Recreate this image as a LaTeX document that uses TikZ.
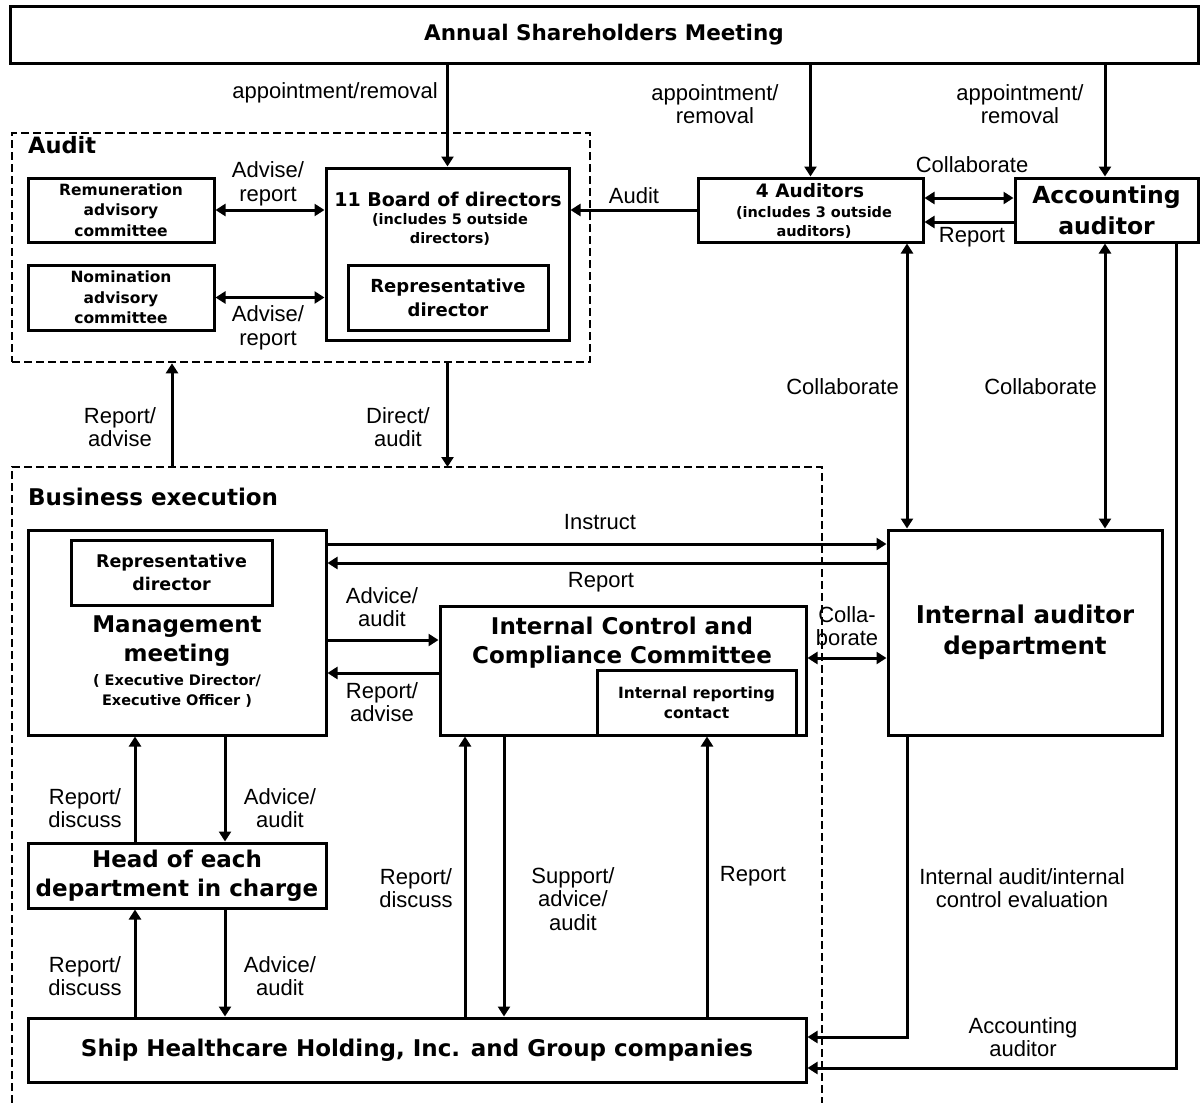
\documentclass[tikz,border=0pt]{standalone}
\usepackage{fontspec}
\setmainfont{DejaVu Sans}
\newfontfamily\labf{Liberation Sans}
\usetikzlibrary{arrows.meta}
\begin{document}
\begin{tikzpicture}[x=1pt,y=-1pt,
  box/.style={draw, line width=3pt, inner sep=0pt, align=center},
  dashbox/.style={draw, line width=2.6pt, dash pattern=on 8pt off 4pt},
  bigf/.style={font=\bfseries\fontsize{23}{29}\selectfont},
  smallf/.style={font=\bfseries\fontsize{15.5}{20.5}\selectfont},
  lab/.style={font=\labf\fontsize{22}{23.5}\selectfont, align=center, inner sep=0pt},
  txt/.style={align=center, inner sep=0pt},
  arr/.style={line width=3pt, -{Triangle[length=10pt,width=12pt]}},
  dbl/.style={line width=3pt, {Triangle[length=10pt,width=12pt]}-{Triangle[length=10pt,width=12pt]}}
]
\useasboundingbox (0,0) rectangle (1203,1103);
\fill[white] (0,0) rectangle (1203,1103);

% helper coordinates
\coordinate (x135) at (135,0);
\coordinate (x172) at (172,0);
\coordinate (x225) at (225,0);
\coordinate (x465) at (465,0);
\coordinate (x504) at (504,0);
\coordinate (x707) at (707,0);
\coordinate (x907) at (907,0);
\coordinate (x1105) at (1105,0);
\coordinate (x1176) at (1176,0);
\coordinate (y198) at (0,198);
\coordinate (y222) at (0,222);
\coordinate (y544) at (0,544);
\coordinate (y563) at (0,563);
\coordinate (y640) at (0,640);
\coordinate (y658) at (0,658);
\coordinate (y673) at (0,673);
\coordinate (y1037) at (0,1037);
\coordinate (y1068) at (0,1068);

% top
\node[box, font=\bfseries\fontsize{21.5}{26}\selectfont, minimum width=1188pt, minimum height=57pt] (asm) at (604,34.5) {Annual Shareholders Meeting};

% audit area
\node[dashbox, minimum width=578pt, minimum height=229pt, inner sep=0pt] (audit) at (301,247.5) {};
\node[txt, anchor=west, font=\bfseries\fontsize{22.5}{27}\selectfont] (audittitle) at (28,145) {Audit};

\node[box, smallf, minimum width=186pt, minimum height=64pt] (rem) at (121,210) {Remuneration\\advisory\\committee};
\node[box, smallf, minimum width=186pt, minimum height=65pt] (nom) at (121,297.5) {Nomination\\advisory\\committee};
\node[box, minimum width=243pt, minimum height=172pt] (bod) at (447.5,254) {};
\node[txt, font=\bfseries\fontsize{19}{24}\selectfont] (bodt1) at (448,199) {11 Board of directors};
\node[txt, font=\bfseries\fontsize{14.5}{19}\selectfont] (bodt2) at (450,229) {(includes 5 outside\\directors)};
\node[box, font=\bfseries\fontsize{18}{24}\selectfont, minimum width=200pt, minimum height=65pt] (bodrep) at (448,297.5) {Representative\\director};

% auditors
\node[box, minimum width=225pt, minimum height=64pt] (aud) at (810.5,210) {};
\node[txt, font=\bfseries\fontsize{18.5}{22}\selectfont] (audt1) at (810,191) {4 Auditors};
\node[txt, font=\bfseries\fontsize{14.5}{19}\selectfont] (audt2) at (814,222) {(includes 3 outside\\auditors)};
\node[box, font=\bfseries\fontsize{23.5}{31}\selectfont, minimum width=183pt, minimum height=64pt] (acc) at (1106.5,210) {Accounting\\auditor};

% business execution
\draw[dashbox] (12,1103) |- (822,467) -- (822,1103);
\coordinate (betop) at (417,467);
\node[txt, anchor=west, font=\bfseries\fontsize{23}{28}\selectfont] (betitle) at (28,497) {Business execution};

\node[box, minimum width=298pt, minimum height=205pt] (mm) at (177,632.5) {};
\node[box, font=\bfseries\fontsize{17.5}{23}\selectfont, minimum width=201pt, minimum height=65pt] (mmrep) at (171.5,572.5) {Representative\\director};
\node[txt, bigf] (mmt1) at (177,641.5) {Management\\meeting};
\node[txt, font=\bfseries\fontsize{14.5}{20}\selectfont] (mmt2) at (177,691) {( Executive Director/\\Executive Officer )};

\node[box, minimum width=366pt, minimum height=129pt] (icc) at (623,670.5) {};
\node[txt, bigf] (icct) at (622,642.5) {Internal Control and\\Compliance Committee};
\node[box, fill=white, font=\bfseries\fontsize{15.5}{20.5}\selectfont, minimum width=199pt, minimum height=65pt] (irc) at (696.5,702.5) {Internal reporting\\contact};

\node[box, font=\bfseries\fontsize{24.5}{31}\selectfont, minimum width=274pt, minimum height=205pt] (iad) at (1025,632.5) {Internal auditor\\department};

\node[box, bigf, minimum width=298pt, minimum height=65pt] (head) at (177,875.5) {Head of each\\department in charge};
\node[box, bigf, minimum width=778pt, minimum height=64pt] (ship) at (417,1050) {Ship Healthcare Holding, Inc. and Group companies};

% connectors top
\draw[arr] (asm.south -| bod) -- (bod.north);
\node[lab, anchor=east] (l1) at (438,93) {appointment/removal};
\draw[arr] (asm.south -| aud) -- (aud.north);
\node[lab] (l2) at (715,104) {appointment/\\removal};
\draw[arr] (asm.south -| x1105) -- (acc.north -| x1105);
\node[lab] (l3) at (1020,104) {appointment/\\removal};

\draw[dbl] (rem.east) -- (rem.east -| bod.west);
\node[lab] (l4) at (268,184) {Advise/\\report};
\draw[dbl] (nom.east) -- (nom.east -| bod.west);
\node[lab] (l5) at (268,328) {Advise/\\report};
\draw[arr] (aud.west) -- (aud.west -| bod.east);
\node[lab] (l6) at (634,196) {Audit};

\draw[dbl] (aud.east |- y198) -- (acc.west |- y198);
\node[lab] (l7) at (972,165) {Collaborate};
\draw[arr] (acc.west |- y222) -- (aud.east |- y222);
\node[lab] (l8) at (972,237) {Report};

\draw[dbl] (aud.south -| x907) -- (iad.north -| x907);
\node[lab, anchor=east] (l9) at (899,387) {Collaborate};
\draw[dbl] (acc.south -| x1105) -- (iad.north -| x1105);
\node[lab, anchor=east] (l10) at (1097,387) {Collaborate};

\draw[arr] (acc.south -| x1176) -- (x1176 |- y1068) -- (ship.east |- y1068);
\node[lab] (l11) at (1023,1037) {Accounting\\auditor};

% between areas
\draw[arr] (betop -| x172) -- (audit.south -| x172);
\node[lab] (l12) at (120,427) {Report/\\advise};
\draw[arr] (audit.south -| bod) -- (betop -| bod);
\node[lab] (l13) at (398,427) {Direct/\\audit};

% business execution connectors
\draw[arr] (mm.east |- y544) -- (iad.west |- y544);
\node[lab] (l14) at (600,522) {Instruct};
\draw[arr] (iad.west |- y563) -- (mm.east |- y563);
\node[lab] (l15) at (601,582) {Report};
\draw[arr] (mm.east |- y640) -- (icc.west |- y640);
\node[lab] (l16) at (382,607) {Advice/\\audit};
\draw[arr] (icc.west |- y673) -- (mm.east |- y673);
\node[lab] (l17) at (382,702) {Report/\\advise};
\draw[dbl] (icc.east |- y658) -- (iad.west |- y658);
\node[lab] (l18) at (847,626) {Colla-\\borate};

\draw[arr] (iad.south -| x907) -- (x907 |- y1037) -- (ship.east |- y1037);
\node[lab] (l19) at (1022,888) {Internal audit/internal\\control evaluation};

\draw[arr] (head.north -| x135) -- (mm.south -| x135);
\node[lab] (l20) at (85,808) {Report/\\discuss};
\draw[arr] (mm.south -| x225) -- (head.north -| x225);
\node[lab] (l21) at (280,808) {Advice/\\audit};
\draw[arr] (ship.north -| x135) -- (head.south -| x135);
\node[lab] (l22) at (85,976) {Report/\\discuss};
\draw[arr] (head.south -| x225) -- (ship.north -| x225);
\node[lab] (l23) at (280,976) {Advice/\\audit};

\draw[arr] (ship.north -| x465) -- (icc.south -| x465);
\node[lab] (l24) at (416,888) {Report/\\discuss};
\draw[arr] (icc.south -| x504) -- (ship.north -| x504);
\node[lab] (l25) at (573,899) {Support/\\advice/\\audit};
\draw[arr] (ship.north -| x707) -- (irc.south -| x707);
\node[lab] (l26) at (753,876) {Report};
\end{tikzpicture}
\end{document}
